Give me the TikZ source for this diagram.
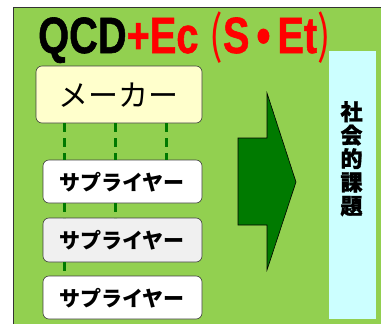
\documentclass[tikz,border=0pt]{standalone}
\usepackage{fontspec}
\usepackage{graphicx}
\setmainfont{Liberation Sans}
\newfontfamily\jpfont{Noto Sans CJK JP}
\newfontfamily\jpheavy{Noto Sans CJK JP}[BoldFeatures={FakeBold=1.5}]
\newfontfamily\titlefont{Liberation Sans}[BoldFeatures={FakeBold=1.2}]
\definecolor{bggreen}{HTML}{92D050}
\definecolor{dgreen}{HTML}{007A00}
\definecolor{ltyellow}{HTML}{FFFFCC}
\definecolor{ltcyan}{HTML}{CCFFFF}
\definecolor{ltgray}{HTML}{F0F0F0}
\tikzset{
  box/.style={draw=black!75, line width=0.6pt, rounded corners=6pt, inner sep=0pt},
  link/.style={draw=dgreen, line width=3pt, dash pattern=on 9pt off 6pt},
  supp/.style={font=\jpfont\bfseries\fontsize{21}{21}\selectfont},
}
\begin{document}
\begin{tikzpicture}[x=1pt,y=-1pt]
\useasboundingbox (0,0) rectangle (381,324);
\begin{scope}
\clip (0,0) rectangle (381,324);
\fill[white] (0,0) rectangle (381,324);
\draw[fill=bggreen, draw=black!80, line width=0.8pt] (13,7) rectangle (395,340);
\end{scope}
% title
\node[anchor=base west, inner sep=0pt] (title) at (38,53)
  {\scalebox{0.78}[1]{\fontsize{51}{51}\selectfont\titlefont\bfseries QCD\textcolor{red}{+Ec {\jpfont\mdseries (}S\kern9pt•\kern9pt Et{\jpfont\mdseries )}}}};
% cyan box
\fill[ltcyan] (329,51) rectangle (376,319);
\node[anchor=north, inner sep=0pt, align=center, font=\jpheavy\bfseries\fontsize{22}{23.5}\selectfont] (social) at (351.5,101) {社\\会\\的\\課\\題};
% maker
\path[box, fill=ltyellow] (36,66) rectangle (202,123);
\node[font=\jpfont\fontsize{30}{30}\selectfont] (maker) at (119,95) {メーカー};
% suppliers
\path[box, fill=white] (43,160) rectangle (202,203);
\path[box, fill=ltgray] (43,218) rectangle (202,262);
\path[box, fill=white] (43,276) rectangle (202,319);
\node[supp] (s1) at (122,182) {サプライヤー};
\node[supp] (s2) at (122,240) {サプライヤー};
\node[supp] (s3) at (122,298) {サプライヤー};
% links
\coordinate (a1) at (64,123); \coordinate (a2) at (64,160);
\coordinate (a3) at (64,203); \coordinate (a4) at (64,218);
\coordinate (a5) at (64,262); \coordinate (a6) at (64,276);
\coordinate (b1) at (115,123); \coordinate (b2) at (115,160);
\coordinate (b3) at (115,203); \coordinate (b4) at (115,218);
\coordinate (c1) at (166,123); \coordinate (c2) at (166,160);
\draw[link] (a1) -- (a2);
\draw[link] (a3) -- (a4);
\draw[link] (a5) -- (a6);
\draw[link] (b1) -- (b2);
\draw[link] (b3) -- (b4);
\draw[link] (c1) -- (c2);
% big arrow
\draw[fill=dgreen, draw=black, line width=0.6pt]
  (238,138) -- (267,138) -- (267,93) -- (296,182) -- (267,270) -- (267,225) -- (238,225) -- cycle;
\end{tikzpicture}
\end{document}
